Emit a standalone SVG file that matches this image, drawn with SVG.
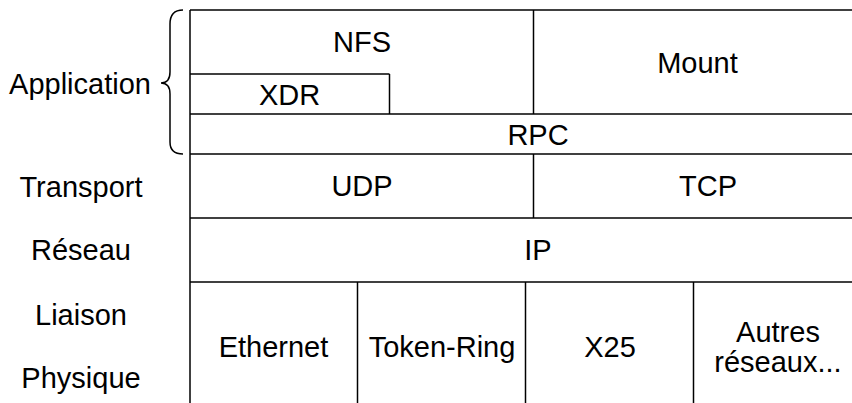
<svg xmlns="http://www.w3.org/2000/svg" width="852" height="403" viewBox="0 0 852 403">
<style>
.ln{stroke:#000;stroke-width:1.5;fill:none}
.t{font-family:"Liberation Sans",Arial,sans-serif;font-size:29px;fill:#000;text-anchor:middle}
</style>
<rect width="852" height="403" fill="#fff"/>
<g id="connectors">
<path class="ln" d="M183,10 Q170,10 170,24 L170,72 Q170,83 161,83 Q170,83 170,94 L170,142 Q170,154 183,154"/>
</g>
<g id="grid">
<line class="ln" x1="190" y1="10" x2="852" y2="10"/>
<line class="ln" x1="190" y1="10" x2="190" y2="403"/>
<line class="ln" x1="533.5" y1="10" x2="533.5" y2="114"/>
<line class="ln" x1="190" y1="74" x2="389.5" y2="74"/>
<line class="ln" x1="389.5" y1="74" x2="389.5" y2="114"/>
<line class="ln" x1="190" y1="114" x2="852" y2="114"/>
<line class="ln" x1="190" y1="154" x2="852" y2="154"/>
<line class="ln" x1="533.5" y1="154" x2="533.5" y2="218"/>
<line class="ln" x1="190" y1="218" x2="852" y2="218"/>
<line class="ln" x1="190" y1="282" x2="852" y2="282"/>
<line class="ln" x1="357.5" y1="282" x2="357.5" y2="403"/>
<line class="ln" x1="525.5" y1="282" x2="525.5" y2="403"/>
<line class="ln" x1="693.5" y1="282" x2="693.5" y2="403"/>
</g>
<g id="layers">
<text class="t" x="80" y="94">Application</text>
<text class="t" x="81" y="197">Transport</text>
<text class="t" x="81" y="260">Réseau</text>
<text class="t" x="81" y="325">Liaison</text>
<text class="t" x="81" y="388">Physique</text>
</g>
<g id="nfs"><text class="t" x="362" y="52">NFS</text></g>
<g id="xdr"><text class="t" x="289.5" y="105">XDR</text></g>
<g id="mount"><text class="t" x="697.5" y="73">Mount</text></g>
<g id="rpc"><text class="t" x="538" y="145">RPC</text></g>
<g id="udp"><text class="t" x="362" y="196">UDP</text></g>
<g id="tcp"><text class="t" x="708" y="196">TCP</text></g>
<g id="ip"><text class="t" x="538" y="260">IP</text></g>
<g id="ethernet"><text class="t" x="273.5" y="357">Ethernet</text></g>
<g id="tokenring"><text class="t" x="442" y="357">Token-Ring</text></g>
<g id="x25"><text class="t" x="610" y="357">X25</text></g>
<g id="autres"><text class="t" x="778" y="342">Autres</text><text class="t" x="778" y="372">réseaux...</text></g>
</svg>
